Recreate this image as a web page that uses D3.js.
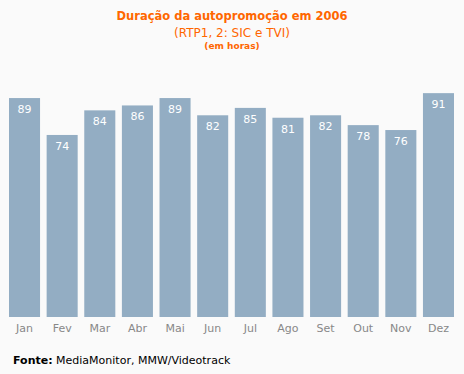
<!DOCTYPE html>
<html lang="pt">
<head>
<meta charset="utf-8">
<title>Duração da autopromoção em 2006</title>
<script src="https://cdn.jsdelivr.net/npm/d3@7"></script>
<style>
  body { margin: 0; background: #fafafa; }
  text { font-family: "DejaVu Sans", Verdana, sans-serif; }
</style>
</head>
<body>
<script>
var months = ["Jan", "Fev", "Mar", "Abr", "Mai", "Jun", "Jul", "Ago", "Set", "Out", "Nov", "Dez"];
var hours = [89, 74, 84, 86, 89, 82, 85, 81, 82, 78, 76, 91];

var w = 464, h = 374;

var svg = d3.select("body").append("svg")
  .attr("width", w)
  .attr("height", h);

svg.append("rect").attr("width", w).attr("height", h).attr("fill", "#fafafa");

var x = d3.scaleBand()
  .domain(months)
  .range([9, 454])
  .paddingInner(0.175)
  .paddingOuter(0);

var y = d3.scaleLinear()
  .domain([0, 100])
  .range([317, 71]);

// titles
svg.append("text")
  .attr("x", 232).attr("y", 20)
  .attr("text-anchor", "middle")
  .attr("fill", "#ff6600")
  .attr("font-size", 11.5)
  .attr("font-weight", "bold")
  .text("Duração da autopromoção em 2006");

svg.append("text")
  .attr("x", 232).attr("y", 37)
  .attr("text-anchor", "middle")
  .attr("fill", "#ff6600")
  .attr("font-size", 12)
  .text("(RTP1, 2: SIC e TVI)");

svg.append("text")
  .attr("x", 232).attr("y", 49)
  .attr("text-anchor", "middle")
  .attr("fill", "#ff6600")
  .attr("font-size", 9)
  .attr("font-weight", "bold")
  .text("(em horas)");

// bars
svg.selectAll("rect.bar")
  .data(hours)
  .enter()
  .append("rect")
  .attr("class", "bar")
  .attr("x", function(d, i) { return x(months[i]); })
  .attr("y", function(d) { return y(d); })
  .attr("width", x.bandwidth())
  .attr("height", function(d) { return y(0) - y(d); })
  .attr("fill", "#93adc3");

svg.selectAll("text.val")
  .data(hours)
  .enter()
  .append("text")
  .attr("class", "val")
  .attr("x", function(d, i) { return x(months[i]) + x.bandwidth() / 2; })
  .attr("y", function(d) { return y(d) + 15; })
  .attr("text-anchor", "middle")
  .attr("fill", "#ffffff")
  .attr("font-size", 11)
  .text(function(d) { return d; });

// month axis
var xAxis = d3.axisBottom(x).tickSize(0).tickPadding(0);
var gx = svg.append("g")
  .attr("transform", "translate(0,324)")
  .call(xAxis);
gx.select(".domain").remove();
gx.selectAll("text")
  .attr("fill", "#888888")
  .attr("font-size", 11)
  .attr("font-family", "DejaVu Sans, Verdana, sans-serif");

// source
var src = svg.append("text")
  .attr("x", 13).attr("y", 364)
  .attr("font-size", 11)
  .attr("fill", "#000000");
src.append("tspan").attr("font-weight", "bold").text("Fonte:");
src.append("tspan").text(" MediaMonitor, MMW/Videotrack");
</script>
</body>
</html>
